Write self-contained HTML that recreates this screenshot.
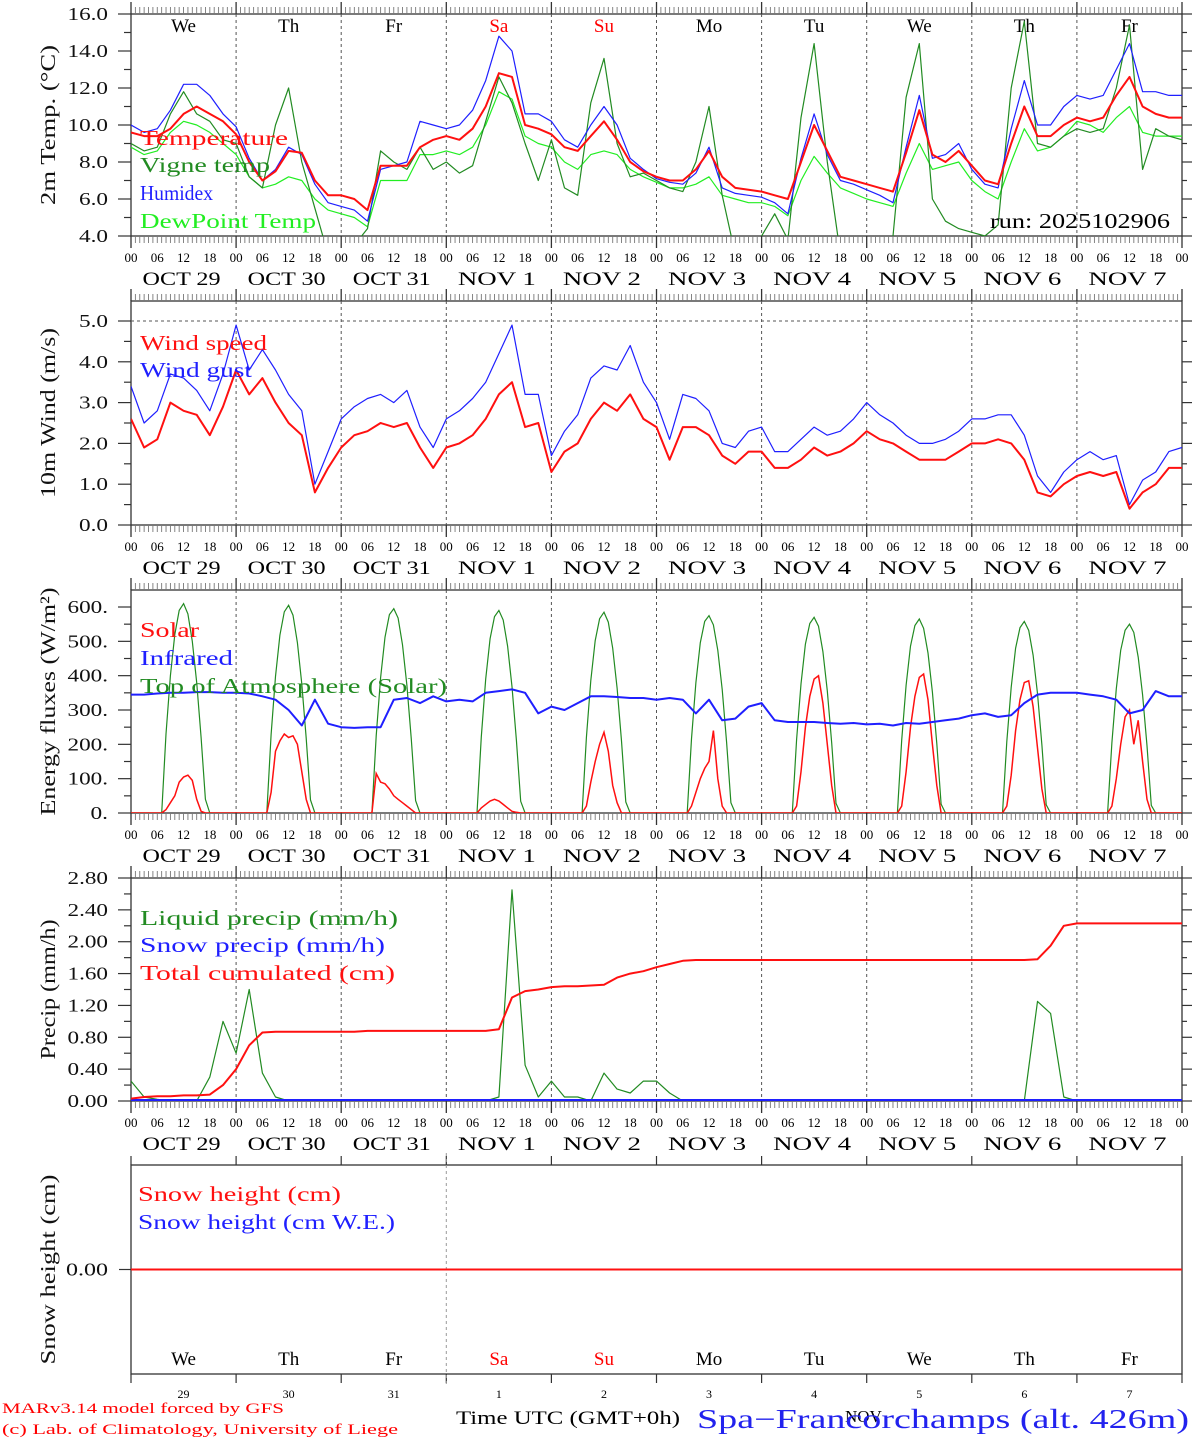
<!DOCTYPE html>
<html><head><meta charset="utf-8"><style>
html,body{margin:0;padding:0;background:#fff;width:1194px;height:1440px;overflow:hidden}
svg{display:block;font-family:"Liberation Serif",serif}
</style></head><body>
<svg id="chart" width="1194" height="1440" viewBox="0 0 1194 1440" xmlns="http://www.w3.org/2000/svg"></svg>
<script>
// ---------- DATA (3-hourly from Oct 29 00h, 81 points) ----------
const dayNames = ["We","Th","Fr","Sa","Su","Mo","Tu","We","Th","Fr"];
const dateLabels = ["OCT 29","OCT 30","OCT 31","NOV  1","NOV  2","NOV  3","NOV  4","NOV  5","NOV  6","NOV  7"];
const dateNums = ["29","30","31","1","2","3","4","5","6","7"];
const hourLabels = ["00","06","12","18"];
const tempVals = [9.6,9.4,9.4,9.8,10.6,11.0,10.6,10.2, 9.5,8.0,7.0,7.5,8.6,8.5,7.0,6.2, 6.2,6.0,5.4,7.8,7.8,7.8,8.8,9.2, 9.4,9.2,9.8,11.0,12.8,12.6,10.0,9.8, 9.5,8.8,8.6,9.4,10.2,9.2,8.0,7.5, 7.2,7.0,7.0,7.6,8.6,7.2,6.6,6.5, 6.4,6.2,6.0,8.0,10.0,8.6,7.2,7.0, 6.8,6.6,6.4,8.5,10.8,8.4,8.0,8.6, 7.8,7.0,6.8,9.0,11.0,9.4,9.4,10.0, 10.4,10.2,10.4,11.6,12.6,11.0,10.6,10.4,10.4];
const humidexVals = [10.0,9.6,9.8,10.8,12.2,12.2,11.6,10.6, 9.9,8.2,7.0,7.6,8.8,8.4,6.8,5.8, 5.6,5.4,4.8,7.6,7.8,8.0,10.2,10.0, 9.8,10.0,10.8,12.4,14.8,14.0,10.6,10.6, 10.2,9.2,8.8,10.0,11.0,10.0,8.2,7.6, 7.1,6.9,6.8,7.4,8.8,6.6,6.3,6.2, 6.1,5.8,5.2,8.2,10.6,8.4,7.0,6.8, 6.5,6.2,5.8,8.8,11.6,8.2,8.4,9.0, 7.6,6.8,6.6,9.8,12.4,10.0,10.0,11.0, 11.6,11.4,11.6,13.0,14.4,11.8,11.8,11.6,11.6];
const vigneVals = [9.0,8.6,8.8,10.6,11.8,10.6,10.2,9.2, 9.0,7.2,6.6,10.0,12.0,8.0,5.5,3.0, 3.0,3.5,4.4,8.6,8.0,7.6,8.8,7.6, 8.0,7.4,7.8,10.2,12.6,11.2,9.0,7.0, 9.2,6.6,6.2,11.2,13.6,9.0,7.2,7.4, 7.0,6.6,6.4,8.0,11.0,6.2,3.0,3.0, 4.0,5.2,3.8,10.4,14.4,8.0,3.0,2.5, 2.5,3.0,4.0,11.5,14.4,6.0,4.8,4.4, 4.2,4.0,4.6,12.0,15.6,9.0,8.8,9.4, 9.8,9.6,9.8,12.0,15.4,7.6,9.8,9.4,9.2];
const dewVals = [8.8,8.4,8.6,9.6,10.2,10.0,9.6,9.0, 8.4,7.2,6.6,6.8,7.2,7.0,6.0,5.4, 5.2,5.0,4.5,7.0,7.0,7.0,8.4,8.4, 8.6,8.4,8.8,10.0,11.8,11.4,9.4,9.0, 8.8,8.0,7.6,8.4,8.6,8.4,7.6,7.2, 6.9,6.6,6.6,6.8,7.2,6.2,6.0,5.8, 5.8,5.6,5.1,7.0,8.3,7.4,6.6,6.3, 6.0,5.8,5.6,7.4,9.0,7.6,7.8,8.0, 7.0,6.4,6.0,8.0,9.8,8.6,8.8,9.4, 10.2,10.0,9.6,10.4,11.0,9.6,9.4,9.4,9.4];
const windVals = [2.6,1.9,2.1,3.0,2.8,2.7,2.2,2.9, 3.8,3.2,3.6,3.0,2.5,2.2,0.8,1.4, 1.9,2.2,2.3,2.5,2.4,2.5,1.9,1.4, 1.9,2.0,2.2,2.6,3.2,3.5,2.4,2.5, 1.3,1.8,2.0,2.6,3.0,2.8,3.2,2.6, 2.4,1.6,2.4,2.4,2.2,1.7,1.5,1.8, 1.8,1.4,1.4,1.6,1.9,1.7,1.8,2.0, 2.3,2.1,2.0,1.8,1.6,1.6,1.6,1.8, 2.0,2.0,2.1,2.0,1.6,0.8,0.7,1.0, 1.2,1.3,1.2,1.3,0.4,0.8,1.0,1.4,1.4];
const gustVals = [3.4,2.5,2.8,3.7,3.6,3.3,2.8,3.7, 4.9,3.8,4.3,3.8,3.2,2.8,1.0,1.8, 2.6,2.9,3.1,3.2,3.0,3.3,2.4,1.9, 2.6,2.8,3.1,3.5,4.2,4.9,3.2,3.2, 1.7,2.3,2.7,3.6,3.9,3.8,4.4,3.5, 3.0,2.1,3.2,3.1,2.8,2.0,1.9,2.3, 2.4,1.8,1.8,2.1,2.4,2.2,2.3,2.6, 3.0,2.7,2.5,2.2,2.0,2.0,2.1,2.3, 2.6,2.6,2.7,2.7,2.2,1.2,0.8,1.3, 1.6,1.8,1.6,1.7,0.5,1.1,1.3,1.8,1.9];
const irVals = [345,345,348,350,350,352,352,350, 350,348,340,330,300,255,330,260, 250,248,250,250,330,335,320,340, 325,330,325,350,355,360,350,290, 310,300,320,340,340,338,335,335, 330,335,330,290,330,270,275,310, 320,270,265,265,265,262,260,262, 258,260,255,262,260,265,270,275, 285,290,280,285,320,345,350,350, 350,345,340,330,290,300,355,340,340];
// daytime hourly values, hours 6..18 for each day
const dayHours = [6,7,8,9,10,11,12,13,14,15,16,17,18];
const toaVals = [
[0,0,230,400,520,590,610,580,500,380,220,40,0],[0,0,228,398,518,586,605,576,496,376,218,38,0],
[0,0,225,394,512,578,595,568,490,372,215,36,0],[0,0,222,390,508,572,590,562,486,368,212,34,0],
[0,0,220,386,502,566,585,556,480,364,210,32,0],[0,0,216,380,496,558,575,548,474,360,206,30,0],
[0,0,214,376,492,552,570,544,470,356,204,28,0],[0,0,212,372,486,546,565,538,466,352,202,26,0],
[0,0,208,366,480,540,558,532,460,348,198,24,0],[0,0,205,362,474,532,550,526,454,344,196,22,0]];
const solarVals = [
[0,0,10,30,50,90,105,110,95,40,5,0,0],[0,0,60,180,210,230,220,225,200,120,40,0,0],
[0,0,115,90,85,70,50,40,30,20,10,0,0],[0,0,15,25,35,40,35,25,15,5,2,0,0],
[0,0,20,90,150,200,235,180,80,30,0,0,0],[0,0,20,60,100,130,150,240,100,20,0,0,0],
[0,0,20,120,250,340,390,400,320,200,80,0,0],[0,0,20,120,250,340,395,405,330,200,80,0,0],
[0,0,20,110,240,330,380,385,310,190,70,0,0],[0,0,20,100,200,280,300,200,270,150,40,0,0]];
const liquidVals = [0.25,0.05,0.02,0,0,0,0.3,1.0, 0.6,1.4,0.35,0.05,0,0,0,0, 0,0,0,0,0,0,0,0, 0,0,0,0,0.05,2.65,0.45,0.05, 0.25,0.05,0.05,0,0.35,0.15,0.1,0.25, 0.25,0.1,0,0,0,0,0,0, 0,0,0,0,0,0,0,0, 0,0,0,0,0,0,0,0, 0,0,0,0,0,1.25,1.1,0.05, 0,0,0,0,0,0,0,0,0];
const cumVals = [0.03,0.05,0.06,0.06,0.07,0.07,0.08,0.2, 0.4,0.7,0.86,0.87,0.87,0.87,0.87,0.87, 0.87,0.87,0.88,0.88,0.88,0.88,0.88,0.88, 0.88,0.88,0.88,0.88,0.9,1.3,1.38,1.4, 1.43,1.44,1.44,1.45,1.46,1.55,1.6,1.63, 1.68,1.72,1.76,1.77,1.77,1.77,1.77,1.77, 1.77,1.77,1.77,1.77,1.77,1.77,1.77,1.77, 1.77,1.77,1.77,1.77,1.77,1.77,1.77,1.77, 1.77,1.77,1.77,1.77,1.77,1.78,1.95,2.2, 2.23,2.23,2.23,2.23,2.23,2.23,2.23,2.23,2.23];

// ---------- DRAWING ----------
const NS="http://www.w3.org/2000/svg";
const svg=document.getElementById('chart');
const X0=131,X1=1182,HRS=240;
function xOf(h){return X0+h*(X1-X0)/HRS;}
function mk(tag,attrs,parent){const e=document.createElementNS(NS,tag);for(const k in attrs)e.setAttribute(k,attrs[k]);(parent||svg).appendChild(e);return e;}
function txt(x,y,s,size,color,anchor,len,parent){const a={x:x,y:y,'font-size':size,fill:color,'text-anchor':anchor||'start'};if(len){a.textLength=len;a.lengthAdjust='spacingAndGlyphs';}const t=mk('text',a,parent);t.textContent=s;return t;}

const panels=[
 {name:'temp-panel',top:14,bot:236,min:4,max:16,step:2,minor:1,fmt:v=>v.toFixed(1),title:'2m Temp. (°C)',tlen:160},
 {name:'wind-panel',top:301,bot:525,min:0,max:(525-301)/40.8,step:1,minor:0.5,fmt:v=>v.toFixed(1),title:'10m Wind (m/s)',tlen:170},
 {name:'energy-panel',top:590,bot:813,min:0,max:600+(607-590)/0.3433,step:100,minor:50,fmt:v=>v.toFixed(0)+'.',title:'Energy fluxes (W/m²)',tlen:228},
 {name:'precip-panel',top:878,bot:1101,min:0,max:2.8,step:0.4,minor:0.2,fmt:v=>v.toFixed(2),title:'Precip (mm/h)',tlen:140},
 {name:'snow-panel',top:1165,bot:1374,min:-1,max:1.0,step:null,title:'Snow height (cm)',tlen:190}
];
panels.forEach(p=>{p.y=v=>p.bot-(v-p.min)/(p.max-p.min)*(p.bot-p.top);});

panels.forEach((p,pi)=>{
 const g=mk('g',{});
 
 
 const cid='clip'+pi;
 const cp=mk('clipPath',{id:cid},g);mk('rect',{x:X0,y:p.top,width:X1-X0,height:p.bot-p.top},cp);
 p.g=g;p.clip='url(#'+cid+')';
 mk('rect',{x:X0,y:p.top,width:X1-X0,height:p.bot-p.top,fill:'none',stroke:'#333','stroke-width':1.3},g);
 if(pi<4){
  for(let d=1;d<10;d++){mk('line',{x1:xOf(d*24),x2:xOf(d*24),y1:p.top,y2:p.bot,stroke:'#555','stroke-width':1,'stroke-dasharray':'3,3'},g);}
  for(let h=0;h<=HRS;h++){
   const big=h%24===0;const L=big?12:7;const x=xOf(h);
   mk('line',{x1:x,x2:x,y1:p.top,y2:p.top-L,stroke:big?'#333':'#777','stroke-width':big?1.3:0.9},g);
   mk('line',{x1:x,x2:x,y1:p.bot,y2:p.bot+L,stroke:big?'#333':'#777','stroke-width':big?1.3:0.9},g);
  }
  for(let d=0;d<10;d++){
   for(let k=0;k<4;k++){txt(xOf(d*24+k*6),p.bot+26,hourLabels[k],13,'#000','middle',null,g);}
   txt(xOf(d*24+12)-2,p.bot+49,dateLabels[d],19,'#000','middle',78,g);
  }
  txt(X1,p.bot+26,'00',13,'#000','middle',null,g);
  for(let v=p.min;v<=p.max+1e-6;v+=p.minor){
   const y=p.y(v);const major=Math.abs(Math.round(v/p.step)*p.step-v)<1e-6;
   mk('line',{x1:X0,x2:X0-(major?13:7),y1:y,y2:y,stroke:'#333','stroke-width':1.2},g);
   mk('line',{x1:X1,x2:X1+(major?10:5),y1:y,y2:y,stroke:'#333','stroke-width':1.2},g);
   if(major){const s=p.fmt(v);const nd=s.replace('.','').length;const dot=s.indexOf('.')>=0?6:0;
    txt(108,y+6,s,18,'#111','end',nd*11.5+dot,g);}
  }
 } else {
  for(let d=0;d<=10;d++){const x=xOf(d*24);
   mk('line',{x1:x,x2:x,y1:p.top,y2:p.top-9,stroke:'#333','stroke-width':1.2},g);
   mk('line',{x1:x,x2:x,y1:p.bot,y2:p.bot+9,stroke:'#333','stroke-width':1.2},g);}
  mk('line',{x1:xOf(72),x2:xOf(72),y1:p.top-12,y2:p.bot+12,stroke:'#999','stroke-width':1,'stroke-dasharray':'3,3'},g);
  mk('line',{x1:X0,x2:X0-12,y1:p.y(0),y2:p.y(0),stroke:'#333','stroke-width':1.2},g);
  txt(108,p.y(0)+6,'0.00',18,'#111','end',42,g);
  for(let d=0;d<10;d++){
   const c=(d===3||d===4)?'#f00':'#000';
   txt(xOf(d*24+12),p.bot-9,dayNames[d],19,c,'middle',null,g);
   txt(xOf(d*24+12),p.bot+24,dateNums[d],12,'#000','middle',null,g);
  }
 }
 const tt=txt(0,0,p.title,21,'#111','middle',p.tlen,g);
 tt.setAttribute('transform','translate(55,'+((p.top+p.bot)/2)+') rotate(-90)');
 
 
});
dayNames.forEach((n,d)=>{const c=(d===3||d===4)?'#f00':'#000';txt(xOf(d*24+12),32,n,19,c,'middle',null,panels[0].g);});

function line3h(p,vals,color,w,name){
 const pts=vals.map((v,i)=>xOf(i*3).toFixed(1)+','+p.y(v).toFixed(1)).join(' ');
 const e=mk('polyline',{points:pts,fill:'none',stroke:color,'stroke-width':w,'clip-path':p.clip,'stroke-linejoin':'round'},p.g);
 
 
}
function lineDay(p,arr,color,w,name){
 const pts=[[xOf(0),p.y(0)]];
 arr.forEach((dv,d)=>dv.forEach((v,k)=>pts.push([xOf(d*24+dayHours[k]),p.y(v)])));
 pts.push([xOf(240),p.y(0)]);
 const e=mk('polyline',{points:pts.map(q=>q[0].toFixed(1)+','+q[1].toFixed(1)).join(' '),fill:'none',stroke:color,'stroke-width':w,'clip-path':p.clip},p.g);
 
 
}
const [P1,P2,P3,P4,P5]=panels;
line3h(P1,dewVals,'#22ee22',1.2,'dewpoint-line');
line3h(P1,vigneVals,'#228b22',1.2,'vigne-temp-line');
line3h(P1,humidexVals,'#1f1fff',1.2,'humidex-line');
line3h(P1,tempVals,'#ff1010',2,'temperature-line');
line3h(P2,gustVals,'#1f1fff',1.2,'wind-gust-line');
line3h(P2,windVals,'#ff1010',2,'wind-speed-line');
mk('line',{x1:X0,x2:X1,y1:P2.y(5),y2:P2.y(5),stroke:'#555','stroke-dasharray':'3,3'},P2.g);
lineDay(P3,toaVals,'#228b22',1.2,'toa-solar-line');
lineDay(P3,solarVals,'#ff1010',1.5,'solar-line');
line3h(P3,irVals,'#1f1fff',2,'infrared-line');
line3h(P4,liquidVals,'#228b22',1.2,'liquid-precip-line');
mk('line',{x1:X0,x2:X1,y1:P4.bot-1,y2:P4.bot-1,stroke:'#1f1fff','stroke-width':2},P4.g);
line3h(P4,cumVals,'#ff1010',2,'cumulated-precip-line');
mk('line',{x1:X0,x2:X1,y1:P5.y(0),y2:P5.y(0),stroke:'#ff1010','stroke-width':2},P5.g);

function leg(g,x,y,s,c,len,name){const t=txt(x,y,s,21,c,'start',len,g);}
leg(P1.g,140,145,'Temperature','#ff1010',148,'legend-temperature');
leg(P1.g,140,172,'Vigne temp','#228b22',130,'legend-vigne-temp');
leg(P1.g,140,200,'Humidex','#1f1fff',73,'legend-humidex');
leg(P1.g,140,228,'DewPoint Temp','#22ee22',176,'legend-dewpoint');
leg(P1.g,990,228,'run: 2025102906','#000',180,'run-label');
leg(P2.g,140,350,'Wind speed','#ff1010',127,'legend-wind-speed');
leg(P2.g,140,377,'Wind gust','#1f1fff',112,'legend-wind-gust');
leg(P3.g,140,637,'Solar','#ff1010',59,'legend-solar');
leg(P3.g,140,665,'Infrared','#1f1fff',93,'legend-infrared');
leg(P3.g,140,693,'Top of Atmosphere (Solar)','#228b22',307,'legend-toa');
leg(P4.g,140,925,'Liquid precip (mm/h)','#228b22',258,'legend-liquid');
leg(P4.g,140,952,'Snow precip (mm/h)','#1f1fff',245,'legend-snow-precip');
leg(P4.g,140,980,'Total cumulated (cm)','#ff1010',255,'legend-cumulated');
leg(P5.g,138,1201,'Snow height (cm)','#ff1010',203,'legend-snow-height');
leg(P5.g,138,1229,'Snow height (cm W.E.)','#1f1fff',257,'legend-snow-we');

const f1=txt(2,1413,'MARv3.14 model forced by GFS',15,'#f00','start',282);

const f2=txt(2,1434,'(c) Lab. of Climatology, University of Liege',15,'#f00','start',396);

const f3=txt(456,1424,'Time UTC (GMT+0h)',19,'#000','start',224);

const f4=txt(845,1422,'NOV',17,'#000','start',null);

const f5=txt(697,1428,'Spa\u2212Francorchamps (alt. 426m)',27,'#2222ee','start',492);

</script>
</body></html>
